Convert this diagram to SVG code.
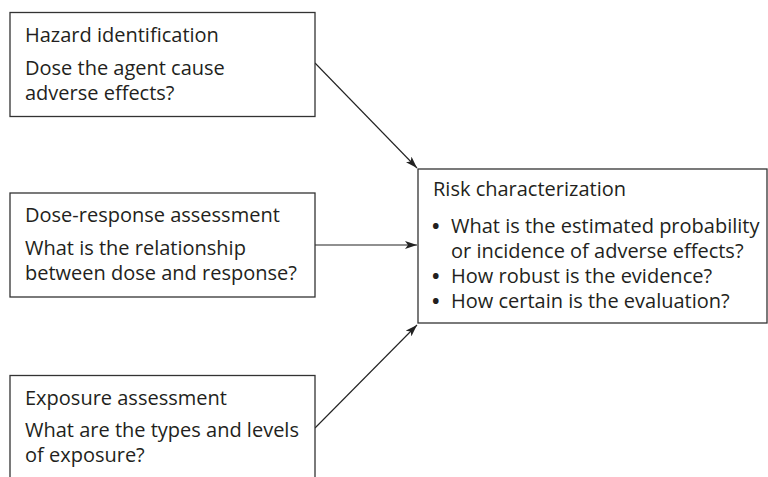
<svg xmlns="http://www.w3.org/2000/svg" width="768" height="477" viewBox="0 0 768 477">
<defs>
<style>
.box{fill:#fff;stroke:#333;stroke-width:1.3}
.t{font-family:"Open Sans","Liberation Sans",sans-serif;font-size:20px;fill:#231f20}
.b{font-weight:bold}
.c{stroke:#222;stroke-width:1.1;fill:none;marker-end:url(#ah)}
</style>
<marker id="ah" viewBox="0 0 12 8" refX="12" refY="4" markerWidth="12" markerHeight="8" markerUnits="userSpaceOnUse" orient="auto">
<path d="M0,0 L12,4 L0,8 L3,4 Z" fill="#222"/>
</marker>
</defs>
<rect width="768" height="477" fill="#fff"/>
<g id="connectors">
<line class="c" x1="315" y1="63" x2="417" y2="168"/>
<line class="c" x1="315" y1="245" x2="417" y2="245"/>
<line class="c" x1="315" y1="428" x2="417" y2="325"/>
</g>
<g id="hazard">
<rect class="box" x="10" y="12.5" width="305" height="104"/>
<text class="t" x="25" y="42">Hazard identification</text>
<text class="t" x="25" y="75">Dose the agent cause</text>
<text class="t" x="25" y="100">adverse effects?</text>
</g>
<g id="doseresponse">
<rect class="box" x="10" y="193" width="305" height="104"/>
<text class="t" x="25" y="222">Dose-response assessment</text>
<text class="t" x="25" y="255">What is the relationship</text>
<text class="t" x="25" y="280">between dose and response?</text>
</g>
<g id="exposure">
<rect class="box" x="10" y="375.5" width="305" height="120"/>
<text class="t" x="25" y="405">Exposure assessment</text>
<text class="t" x="25" y="437">What are the types and levels</text>
<text class="t" x="25" y="462">of exposure?</text>
</g>
<g id="risk">
<rect class="box" x="418" y="169" width="349" height="154"/>
<text class="t" x="433" y="196">Risk characterization</text>
<text class="t" x="432" y="233"><tspan class="b">•</tspan><tspan x="451">What is the estimated probability</tspan></text>
<text class="t" x="451" y="258">or incidence of adverse effects?</text>
<text class="t" x="432" y="283"><tspan class="b">•</tspan><tspan x="451">How robust is the evidence?</tspan></text>
<text class="t" x="432" y="308"><tspan class="b">•</tspan><tspan x="451">How certain is the evaluation?</tspan></text>
</g>
</svg>
